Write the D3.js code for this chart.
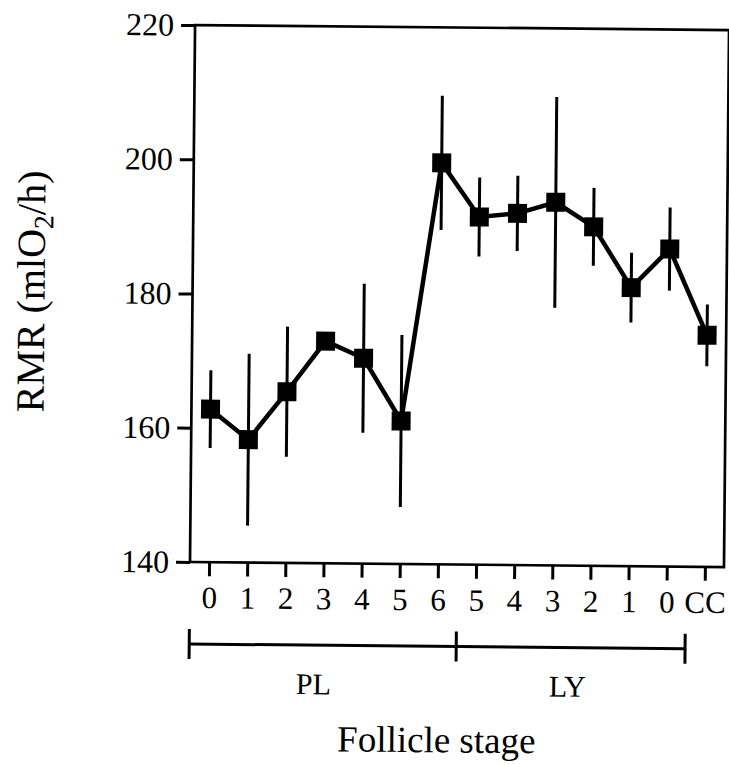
<!DOCTYPE html>
<html>
<head>
<meta charset="utf-8">
<script src="https://cdn.jsdelivr.net/npm/d3@7"></script>
<style>
  html, body { margin: 0; padding: 0; background: #fff; }
  svg { display: block; }
  text { font-family: "Liberation Serif", "Times New Roman", serif; fill: #000; }
</style>
</head>
<body>
<script>
// Follicle stages along the x axis (PL stages 0–6, LY stages 5–0, then CC)
const stageLabels = ["0", "1", "2", "3", "4", "5", "6", "5", "4", "3", "2", "1", "0", "CC"];
// Mean resting metabolic rate at each stage (ml O2 / h)
const rmrMeans = [162.8, 158.3, 165.5, 173.1, 170.6, 161.3, 199.8, 191.8, 192.4, 194.1, 190.5, 181.5, 187.3, 174.5];
// Error bar half-lengths
const rmrErrors = [5.8, 12.8, 9.7, 1.2, 11.1, 12.8, 10.0, 5.9, 5.6, 15.7, 5.8, 5.2, 6.2, 4.6];
// Y-axis ticks
const yTicks = [140, 160, 180, 200, 220];
// Stage groups shown as brackets under the axis: names and index spans
const phaseNames = ["PL", "LY"];
const phaseFrom = [-0.5, 6.5];
const phaseTo = [6.5, 12.5];

const W = 729, H = 765;
const plotL = 190, plotR = 724, plotT = 25, plotB = 562;
const font = "'Liberation Serif', 'Times New Roman', serif";

const svg = d3.select("body").append("svg")
  .attr("width", W).attr("height", H);

// the whole figure sits slightly tilted, as printed
const g = svg.append("g").attr("transform", `rotate(0.54, ${plotL}, ${plotB})`);

const idx = stageLabels.map((d, i) => i);
const x = d3.scalePoint().domain(idx).range([plotL, plotR]).padding(0.5);
const step = x.step();
const xAt = i => x(0) + i * step;
const y = d3.scaleLinear().domain([140, 220]).range([plotB, plotT]);

// frame
g.append("rect")
  .attr("x", plotL).attr("y", plotT)
  .attr("width", plotR - plotL).attr("height", plotB - plotT)
  .attr("fill", "none").attr("stroke", "#000").attr("stroke-width", 2.7);

// y axis
const yAxis = g.append("g").attr("transform", `translate(${plotL},0)`)
  .call(d3.axisLeft(y).tickValues(yTicks).tickSize(14).tickPadding(7).tickFormat(d3.format("d")));
yAxis.select(".domain").remove();
yAxis.selectAll(".tick line").attr("stroke", "#000").attr("stroke-width", 3);
yAxis.selectAll(".tick text").attr("font-size", 32).attr("font-family", font).attr("fill", "#000");

// x axis
const xAxis = g.append("g").attr("transform", `translate(0,${plotB})`)
  .call(d3.axisBottom(x).tickSize(14).tickPadding(10).tickFormat(i => stageLabels[i]));
xAxis.select(".domain").remove();
xAxis.selectAll(".tick line").attr("stroke", "#000").attr("stroke-width", 3);
xAxis.selectAll(".tick text").attr("font-size", 31).attr("font-family", font).attr("fill", "#000");

// error bars
g.append("g").selectAll("line").data(idx).join("line")
  .attr("x1", i => x(i)).attr("x2", i => x(i))
  .attr("y1", i => y(rmrMeans[i] + rmrErrors[i]))
  .attr("y2", i => y(rmrMeans[i] - rmrErrors[i]))
  .attr("stroke", "#000").attr("stroke-width", 3);

// connecting line
g.append("path")
  .datum(idx)
  .attr("d", d3.line().x(i => x(i)).y(i => y(rmrMeans[i])))
  .attr("fill", "none").attr("stroke", "#000")
  .attr("stroke-width", 4.5).attr("stroke-linejoin", "miter");

// square markers
const ms = 19;
g.append("g").selectAll("rect").data(idx).join("rect")
  .attr("x", i => x(i) - ms / 2).attr("y", i => y(rmrMeans[i]) - ms / 2)
  .attr("width", ms).attr("height", ms).attr("fill", "#000");

// stage-group brackets
const by = 644, bh = 15;
const br = g.append("g").attr("stroke", "#000").attr("stroke-width", 3);
br.append("line")
  .attr("x1", xAt(phaseFrom[0])).attr("x2", xAt(phaseTo[phaseTo.length - 1]))
  .attr("y1", by).attr("y2", by);
const ends = [phaseFrom[0], ...phaseTo];
br.selectAll("line.end").data(ends).join("line").attr("class", "end")
  .attr("x1", d => xAt(d)).attr("x2", d => xAt(d))
  .attr("y1", by - bh).attr("y2", by + bh);

const labelShift = [-9, -3];
g.append("g").selectAll("text").data(phaseNames).join("text")
  .attr("x", (d, k) => (xAt(phaseFrom[k]) + xAt(phaseTo[k])) / 2 + labelShift[k])
  .attr("y", 693)
  .attr("text-anchor", "middle")
  .attr("font-size", 30)
  .text(d => d);

// axis titles
g.append("text")
  .attr("x", 438).attr("y", 750)
  .attr("text-anchor", "middle")
  .attr("font-size", 37)
  .text("Follicle stage");

const yt = g.append("text")
  .attr("transform", "translate(42,293) rotate(-90)")
  .attr("text-anchor", "middle")
  .attr("font-size", 40);
yt.append("tspan").text("RMR (mlO");
yt.append("tspan").attr("font-size", 28).attr("dy", 8).text("2");
yt.append("tspan").attr("dy", -8).text("/h)");
</script>
</body>
</html>
